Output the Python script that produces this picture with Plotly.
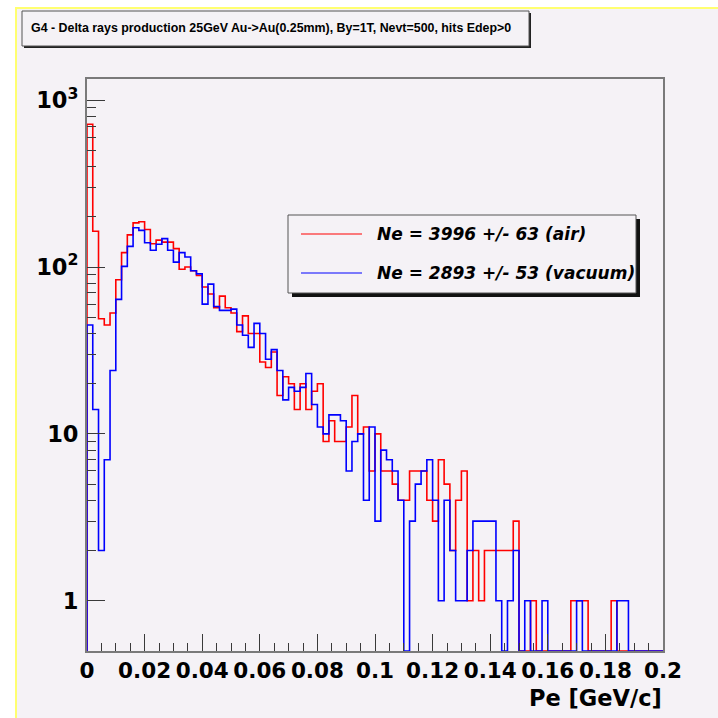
import numpy as np
import plotly.graph_objects as go

# ---------------- data ----------------
x_min = 0.0
x_max = 0.2
n_bins = 100

air_counts = [
    717, 164, 49, 45, 53, 84, 122, 156, 184, 187,
    168, 138, 145, 141, 141, 129, 97, 100, 95, 89,
    76, 69, 57, 67, 57, 53, 41, 51, 40, 40,
    27, 25, 31, 17, 22, 20, 14, 20, 14, 18,
    20, 9, 12, 9, 9, 11, 17, 10, 11, 6,
    10, 6, 6, 5, 4, 4, 6, 6, 6, 4,
    3, 7, 5, 2, 4, 6, 1, 2, 1, 2,
    2, 2, 2, 2, 3, 0, 0, 1, 0, 0,
    0, 0, 0, 0, 1, 1, 1, 0, 0, 0,
    0, 1, 0, 0, 0, 0, 0, 0, 0, 0,
]
vacuum_counts = [
    45, 14, 2, 7, 24, 64, 101, 133, 172, 166,
    140, 126, 137, 148, 126, 107, 122, 115, 95, 91,
    60, 79, 58, 55, 55, 56, 45, 39, 33, 46,
    40, 28, 32, 24, 16, 19, 18, 19, 23, 15,
    11, 10, 13, 13, 12, 6, 9, 10, 4, 11,
    3, 8, 7, 6, 4, 0, 3, 5, 6, 7,
    4, 1, 4, 2, 1, 1, 2, 3, 3, 3,
    3, 1, 0, 1, 2, 0, 1, 0, 0, 1,
    0, 0, 0, 0, 0, 1, 0, 0, 0, 0,
    0, 0, 1, 1, 0, 0, 0, 0, 0, 0,
]
series_names = ["Ne = 3996 +/- 63 (air)", "Ne = 2893 +/- 53 (vacuum)"]
series_colors = ["#ff0000", "#0000ff"]
title_text = "G4 - Delta rays production 25GeV Au->Au(0.25mm), By=1T, Nevt=500, hits Edep>0"
x_title = "Pe [GeV/c]"
x_tick_vals = [0, 0.02, 0.04, 0.06, 0.08, 0.1, 0.12, 0.14, 0.16, 0.18, 0.2]
x_tick_text = ["0", "0.02", "0.04", "0.06", "0.08", "0.1", "0.12", "0.14", "0.16", "0.18", "0.2"]
y_tick_vals = [1, 10, 100, 1000]
y_tick_text = ["1", "10", "10<sup>2</sup>", "10<sup>3</sup>"]
y_min = 0.5
y_max = 1340.0

# ---------------- layout geometry ----------------
W = H = 718
L, R, T, B = 87, 55, 79, 67
PW = W - L - R
PH = H - T - B
BG = "#f5f2f6"


def px(x):
    return (x - L) / PW


def py(y):
    return (H - B - y) / PH


edges = np.linspace(x_min, x_max, n_bins + 1)

fig = go.Figure()
for counts, name, color in zip([air_counts, vacuum_counts], series_names, series_colors):
    vals = np.array(counts, dtype=float)
    vals = np.where(vals > 0, vals, y_min)
    xs = np.concatenate([[edges[0]], edges[:-1], [edges[-1]]])
    ys = np.concatenate([[y_min], vals, [vals[-1]]])
    fig.add_trace(go.Scatter(
        x=xs, y=ys, mode="lines", name=name,
        line=dict(color=color, width=1.6, shape="hv"),
        showlegend=False, hoverinfo="skip",
    ))

minor_y = [m * 10 ** e for e in range(0, 4) for m in range(2, 10)]
minor_y = [v for v in minor_y if y_min < v < y_max]

axis_col = "#7a7a7a"
tick_col = "#3a3a3a"
fig.update_xaxes(
    range=[x_min, x_max], showgrid=False, zeroline=False,
    showline=True, linecolor=axis_col, linewidth=2, mirror=True,
    ticks="inside", ticklen=17, tickwidth=1.3, tickcolor=tick_col,
    tickmode="array", tickvals=x_tick_vals, ticktext=x_tick_text,
    tickfont=dict(family="DejaVu Sans", size=21.5, color="#000", weight="bold"),
    ticklabelstandoff=-1,
    minor=dict(ticks="inside", ticklen=8, tickwidth=1.3, tickcolor=tick_col, dtick=0.005, showgrid=False),
)
fig.update_yaxes(
    type="log", range=[np.log10(y_min), np.log10(y_max)], showgrid=False, zeroline=False,
    showline=True, linecolor=axis_col, linewidth=2, mirror=True,
    ticks="inside", ticklen=18, tickwidth=1.3, tickcolor=tick_col,
    tickmode="array", tickvals=y_tick_vals, ticktext=y_tick_text,
    tickfont=dict(family="DejaVu Sans", size=22.5, color="#000", weight="bold"),
    ticklabelstandoff=2,
    minor=dict(ticks="inside", ticklen=9, tickwidth=1.3, tickcolor=tick_col,
               tickmode="array", tickvals=minor_y, showgrid=False),
)

shapes = []
# canvas background with yellow border (white strip outside)
shapes.append(dict(type="rect", xref="paper", yref="paper",
                   x0=px(16), x1=px(740), y0=py(740), y1=py(8),
                   fillcolor=BG, line=dict(color="#ffff70", width=2), layer="below"))
# title box with shadow
shapes.append(dict(type="rect", xref="paper", yref="paper",
                   x0=px(24), x1=px(531), y0=py(48), y1=py(13),
                   fillcolor="#222", line=dict(width=0), layer="above"))
shapes.append(dict(type="rect", xref="paper", yref="paper",
                   x0=px(22), x1=px(529), y0=py(46), y1=py(11),
                   fillcolor=BG, line=dict(color="#555", width=1), layer="above"))
# legend box with shadow
shapes.append(dict(type="rect", xref="paper", yref="paper",
                   x0=px(292), x1=px(640), y0=py(297), y1=py(219),
                   fillcolor="#111", line=dict(width=0), layer="above"))
shapes.append(dict(type="rect", xref="paper", yref="paper",
                   x0=px(288), x1=px(636), y0=py(293), y1=py(215),
                   fillcolor=BG, line=dict(color="#555", width=1), layer="above"))
leg_y = [234, 273]
for yy, color in zip(leg_y, series_colors):
    shapes.append(dict(type="line", xref="paper", yref="paper",
                       x0=px(301), x1=px(362), y0=py(yy), y1=py(yy),
                       line=dict(color=color, width=1), layer="above"))

annotations = [
    dict(text=title_text, xref="paper", yref="paper", x=px(29), y=py(28.5),
         xanchor="left", yanchor="middle", showarrow=False,
         font=dict(family="Liberation Sans", size=12.4, color="#000", weight="bold")),
    dict(text=x_title, xref="paper", yref="paper", x=px(664), y=py(698),
         xanchor="right", yanchor="middle", showarrow=False,
         font=dict(family="DejaVu Sans", size=22.5, color="#000", weight="bold")),
]
for yy, name in zip(leg_y, series_names):
    annotations.append(dict(text=name, xref="paper", yref="paper", x=px(375), y=py(yy),
                            xanchor="left", yanchor="middle", showarrow=False,
                            font=dict(family="DejaVu Sans", size=17, color="#000",
                                      weight="bold", style="italic")))

fig.update_layout(
    width=W, height=H,
    margin=dict(l=L, r=R, t=T, b=B, pad=0),
    paper_bgcolor="#ffffff", plot_bgcolor=BG,
    shapes=shapes, annotations=annotations,
    showlegend=False,
)

fig.write_html("out.html", include_plotlyjs=True, config={"displayModeBar": False})
